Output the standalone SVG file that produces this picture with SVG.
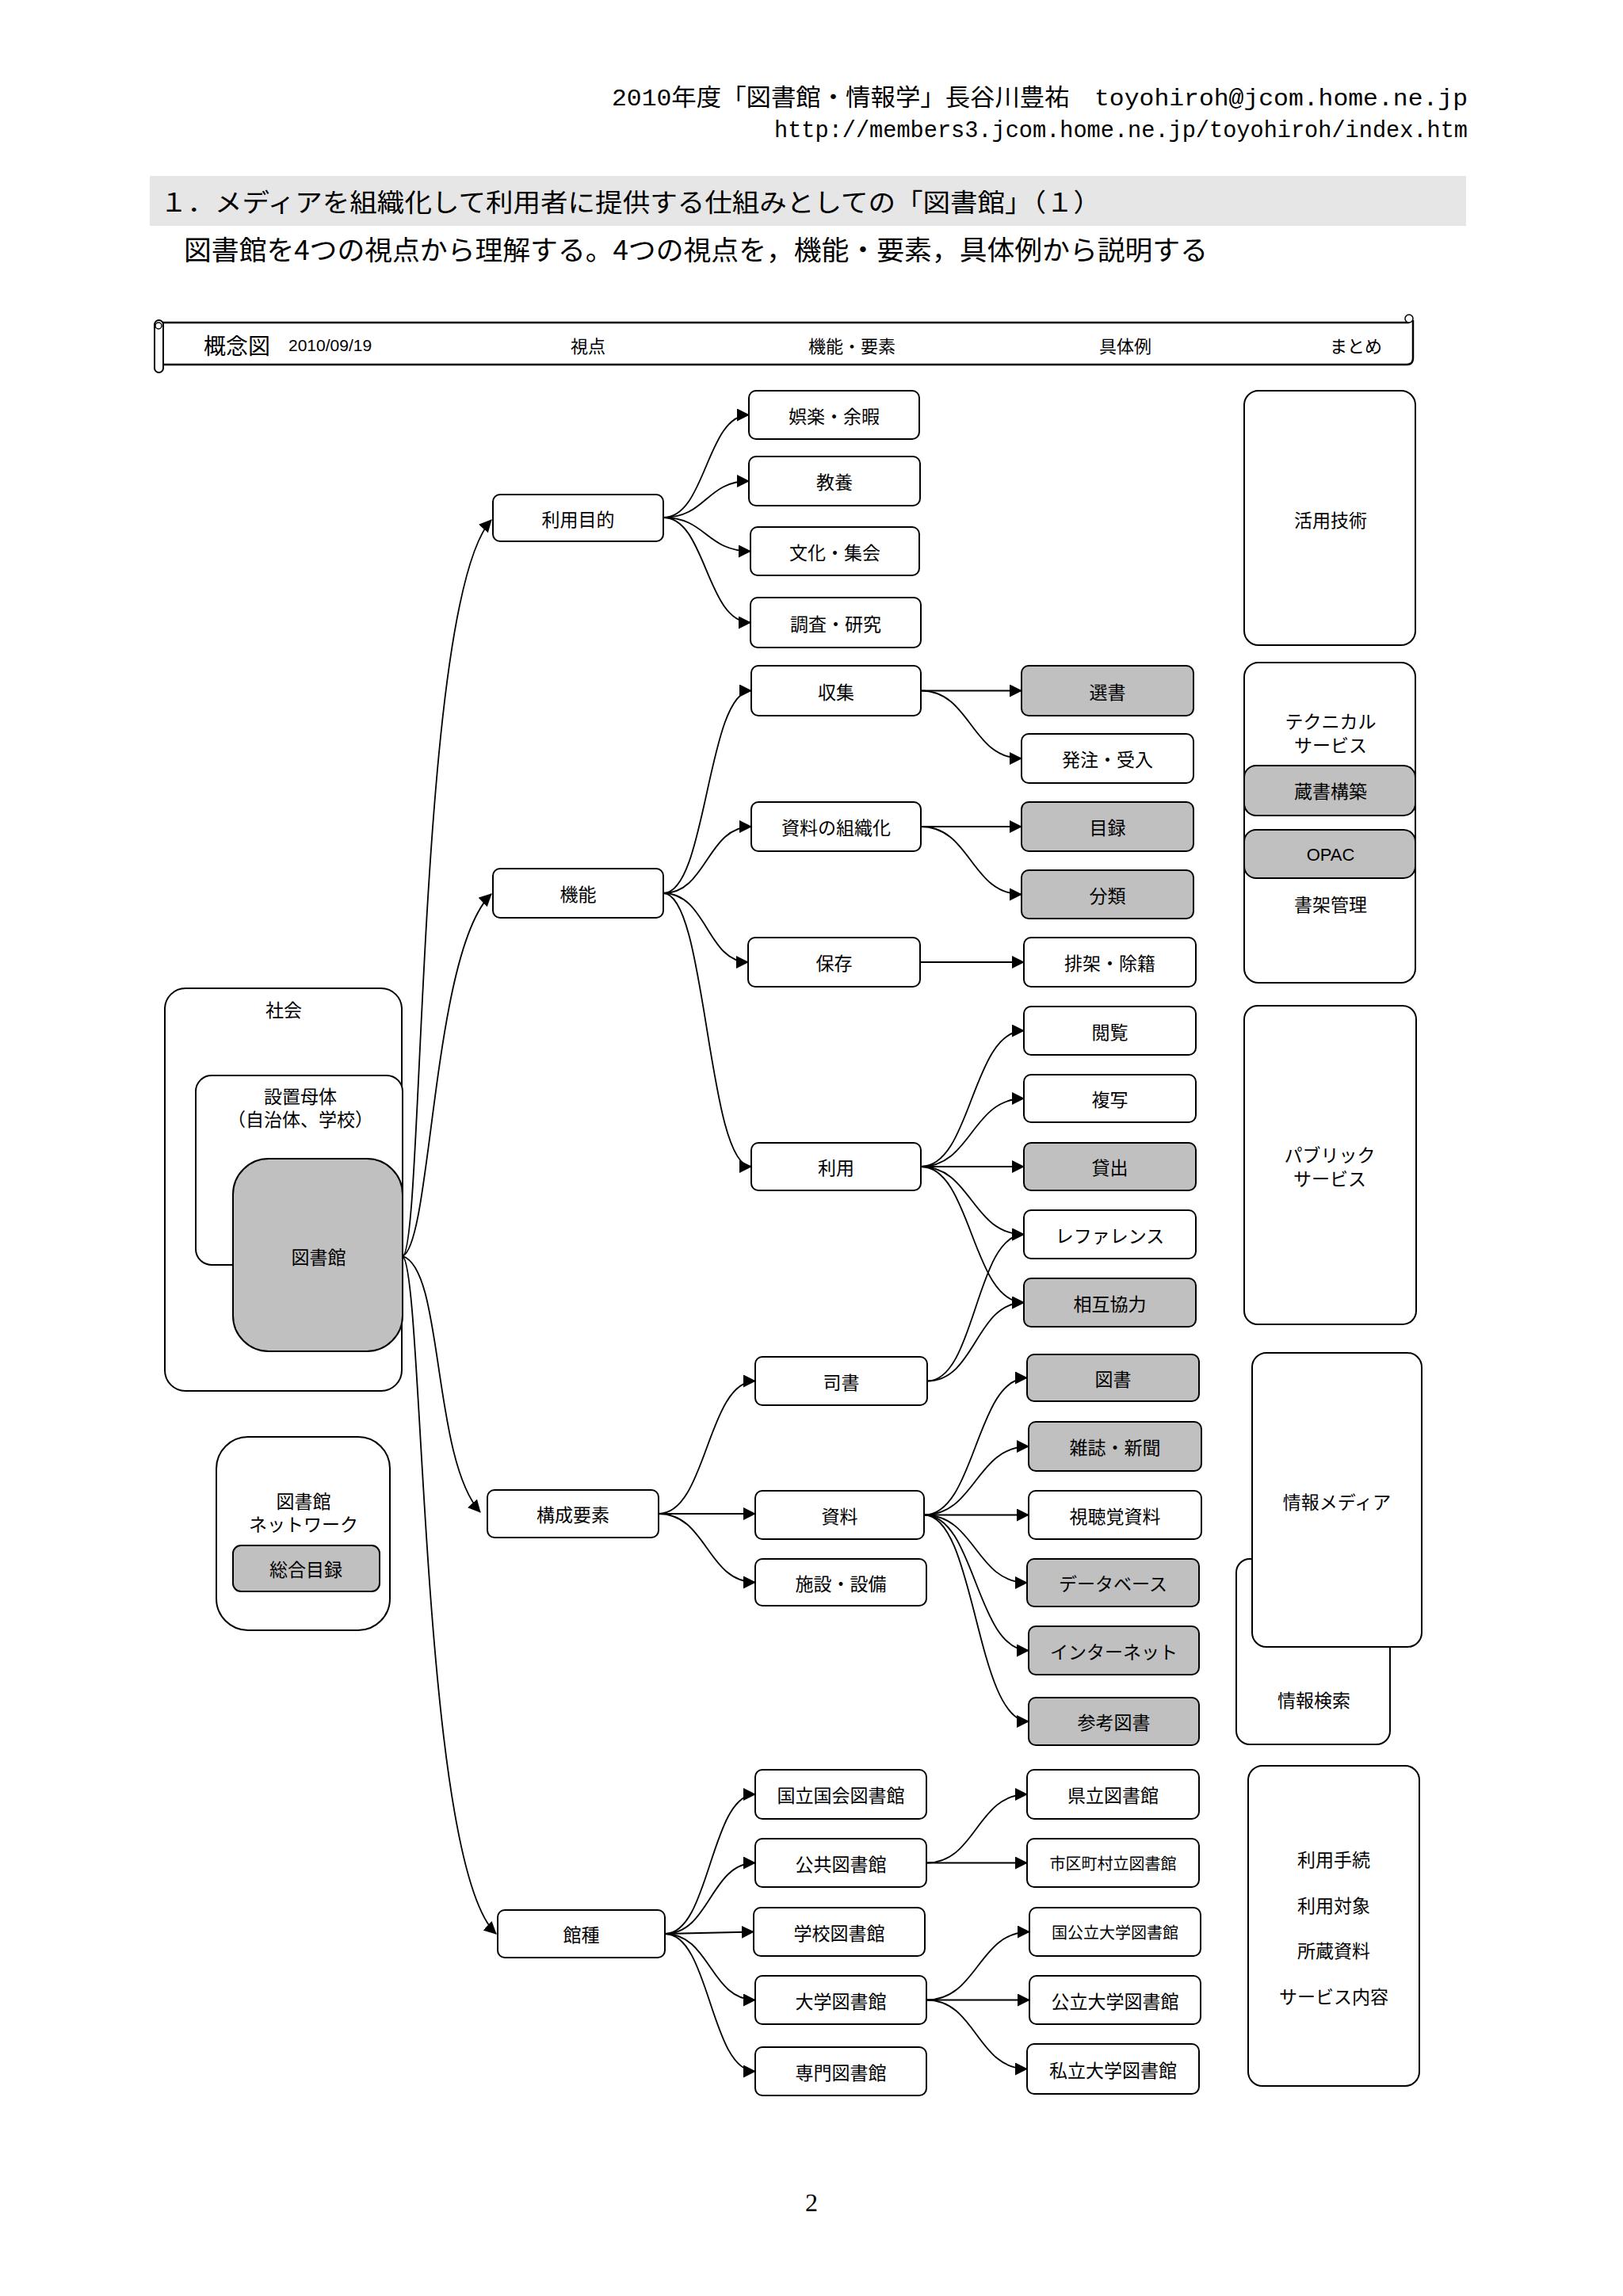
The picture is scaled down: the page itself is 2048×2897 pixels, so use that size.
<svg xmlns="http://www.w3.org/2000/svg" width="2048" height="2897" viewBox="0 0 2048 2897">
<style>
.n{fill:#fff;stroke:#000;stroke-width:2}
.g{fill:#c0c0c0;stroke:#000;stroke-width:2}
.t{font-family:"Noto Sans CJK JP","Liberation Sans",sans-serif;font-size:23px;text-anchor:middle;dominant-baseline:central;fill:#000}
.s{font-size:20px}
.c{fill:none;stroke:#000;stroke-width:1.8;marker-end:url(#ah)}
.hd{font-family:"Liberation Mono","Noto Sans CJK JP",monospace;font-size:30px;fill:#000}
</style>
<defs>
<marker id="ah" markerUnits="userSpaceOnUse" viewBox="0 0 16 16" markerWidth="16" markerHeight="16" refX="15" refY="8" orient="auto">
<path d="M0,0 L16,8 L0,16 z" fill="#000"/>
</marker>
</defs>
<rect width="2048" height="2897" fill="#fff"/>

<!-- page header -->
<text class="hd" x="1852" y="133" text-anchor="end" textLength="1080" lengthAdjust="spacingAndGlyphs">2010年度「図書館・情報学」長谷川豊祐　toyohiroh@jcom.home.ne.jp</text>
<text class="hd" x="1852" y="173" text-anchor="end" textLength="875" lengthAdjust="spacingAndGlyphs">http://members3.jcom.home.ne.jp/toyohiroh/index.htm</text>
<rect x="189" y="222" width="1661" height="63" fill="#e6e6e6"/>
<text x="202" y="267" font-family="Noto Sans CJK JP,sans-serif" font-size="32" textLength="1187" lengthAdjust="spacingAndGlyphs">１．メディアを組織化して利用者に提供する仕組みとしての「図書館」（１）</text>
<text x="232" y="328" font-family="Noto Sans CJK JP,sans-serif" font-size="34" textLength="1292" lengthAdjust="spacingAndGlyphs">図書館を4つの視点から理解する。4つの視点を，機能・要素，具体例から説明する</text>

<!-- scroll header -->
<g id="scroll">
<path d="M200,407 H1778 M1783,404 V452 Q1783,460 1775,460 H205" fill="none" stroke="#000" stroke-width="2.5"/>
<rect x="195" y="404" width="11" height="66" rx="5.5" fill="#fff" stroke="#000" stroke-width="2"/>
<circle cx="200" cy="411" r="4" fill="#fff" stroke="#000" stroke-width="1.5"/>
<circle cx="1778" cy="402" r="5" fill="#fff" stroke="#000" stroke-width="1.5"/>
<text class="t" x="299" y="435" style="font-size:28px">概念図</text>
<text x="364" y="435" font-family="Liberation Sans,sans-serif" font-size="21" dominant-baseline="central">2010/09/19</text>
<text class="t" x="742" y="435" style="font-size:22px">視点</text>
<text class="t" x="1075" y="435" style="font-size:22px">機能・要素</text>
<text class="t" x="1420" y="435" style="font-size:22px">具体例</text>
<text class="t" x="1711" y="435" style="font-size:22px">まとめ</text>
</g>

<!-- left context boxes -->
<g id="shakai"><rect class="n" x="208" y="1247" width="299" height="508" rx="26"/><text class="t" x="358" y="1273">社会</text></g>
<g id="secchi"><rect class="n" x="247" y="1357" width="261" height="239" rx="20"/><text class="t" x="379" y="1382">設置母体</text><text class="t" x="379" y="1411">（自治体、学校）</text></g>
<g id="toshokan"><rect class="g" x="294" y="1462" width="214" height="243" rx="45"/><text class="t" x="402" y="1585">図書館</text></g>
<g id="network"><rect class="n" x="273" y="1813" width="219" height="244" rx="40"/><text class="t" x="383" y="1893">図書館</text><text class="t" x="383" y="1922">ネットワーク</text>
<rect class="g" x="294" y="1950" width="185" height="58" rx="10"/><text class="t" x="386" y="1979">総合目録</text></g>

<!-- right summary boxes -->
<g id="katsuyo"><rect class="n" x="1570" y="493" width="216" height="321" rx="18"/><text class="t" x="1679" y="655">活用技術</text></g>
<g id="technical"><rect class="n" x="1570" y="836" width="216" height="404" rx="18"/><text class="t" x="1679" y="909">テクニカル</text><text class="t" x="1679" y="939">サービス</text>
<rect class="g" x="1570" y="966" width="216" height="63" rx="15"/><text class="t" x="1679" y="997">蔵書構築</text>
<rect class="g" x="1570" y="1047" width="216" height="61" rx="15"/><text class="t" x="1679" y="1078" style="font-family:'Liberation Sans',sans-serif;font-size:22px">OPAC</text>
<text class="t" x="1679" y="1140">書架管理</text></g>
<g id="public"><rect class="n" x="1570" y="1269" width="217" height="402" rx="17"/><text class="t" x="1678" y="1456">パブリック</text><text class="t" x="1678" y="1486">サービス</text></g>
<g id="kensaku"><rect class="n" x="1560" y="1967" width="194" height="234" rx="17"/><text class="t" x="1658" y="2144">情報検索</text></g>
<g id="media"><rect class="n" x="1580" y="1707" width="214" height="371" rx="18"/><text class="t" x="1687" y="1894">情報メディア</text></g>
<g id="riyotetsuzuki"><rect class="n" x="1575" y="2228" width="216" height="404" rx="18"/><text class="t" x="1683" y="2345">利用手続</text><text class="t" x="1683" y="2403">利用対象</text><text class="t" x="1683" y="2460">所蔵資料</text><text class="t" x="1683" y="2518">サービス内容</text></g>

<!-- connectors -->
<g id="connectors">
<path class="c" d="M508,1585 C535,1580 525,760 620,656"/>
<path class="c" d="M508,1585 C545,1570 545,1200 620,1128"/>
<path class="c" d="M508,1585 C560,1600 545,1840 606,1908"/>
<path class="c" d="M508,1585 C535,1600 530,2350 626,2440"/>

<path class="c" d="M837,653 C891,653 891,523.5 945,523.5"/>
<path class="c" d="M837,653 C891,653 891,607 945,607"/>
<path class="c" d="M837,653 C891,653 891,695.5 947,695.5"/>
<path class="c" d="M837,653 C891,653 891,785.5 947,785.5"/>

<path class="c" d="M837,1127 C892,1127 892,871.5 948,871.5"/>
<path class="c" d="M837,1127 C892,1127 892,1043 948,1043"/>
<path class="c" d="M837,1127 C892,1127 892,1214 944,1214"/>
<path class="c" d="M837,1127 C892,1127 892,1472 948,1472"/>

<path class="c" d="M1162,871.5 H1289"/>
<path class="c" d="M1162,871.5 C1225,871.5 1225,957 1289,957"/>
<path class="c" d="M1162,1043 H1289"/>
<path class="c" d="M1162,1043 C1225,1043 1225,1128.5 1289,1128.5"/>
<path class="c" d="M1161,1214 H1292"/>

<path class="c" d="M1162,1472 C1226,1472 1226,1300.5 1292,1300.5"/>
<path class="c" d="M1162,1472 C1226,1472 1226,1386 1292,1386"/>
<path class="c" d="M1162,1472 H1292"/>
<path class="c" d="M1162,1472 C1226,1472 1226,1557.5 1292,1557.5"/>
<path class="c" d="M1162,1472 C1226,1472 1226,1643.5 1292,1643.5"/>
<path class="c" d="M1170,1742.5 C1231,1742.5 1231,1557.5 1292,1557.5"/>
<path class="c" d="M1170,1742.5 C1231,1742.5 1231,1643.5 1292,1643.5"/>

<path class="c" d="M831,1910 C892,1910 892,1742.5 953,1742.5"/>
<path class="c" d="M831,1910 H953"/>
<path class="c" d="M831,1910 C892,1910 892,1996.5 953,1996.5"/>

<path class="c" d="M1166,1911.5 C1231,1911.5 1231,1738.5 1296,1738.5"/>
<path class="c" d="M1166,1911.5 C1231,1911.5 1231,1825 1298,1825"/>
<path class="c" d="M1166,1911.5 H1298"/>
<path class="c" d="M1166,1911.5 C1231,1911.5 1231,1997 1296,1997"/>
<path class="c" d="M1166,1911.5 C1231,1911.5 1231,2082.5 1298,2082.5"/>
<path class="c" d="M1166,1911.5 C1231,1911.5 1231,2172 1298,2172"/>

<path class="c" d="M839,2440 C896,2440 896,2264 953,2264"/>
<path class="c" d="M839,2440 C896,2440 896,2350.5 953,2350.5"/>
<path class="c" d="M839,2440 L951,2437.5"/>
<path class="c" d="M839,2440 C896,2440 896,2523.5 953,2523.5"/>
<path class="c" d="M839,2440 C896,2440 896,2613.5 953,2613.5"/>

<path class="c" d="M1169,2350.5 C1232,2350.5 1232,2264 1296,2264"/>
<path class="c" d="M1169,2350.5 H1296"/>
<path class="c" d="M1169,2523.5 C1234,2523.5 1234,2437.5 1299,2437.5"/>
<path class="c" d="M1169,2523.5 H1299"/>
<path class="c" d="M1169,2523.5 C1232,2523.5 1232,2610.5 1296,2610.5"/>
</g>

<!-- column A -->
<g id="riyomokuteki"><rect class="n" x="622" y="624" width="215" height="59" rx="9"/><text class="t" x="729.5" y="653.5">利用目的</text></g>
<g id="kino"><rect class="n" x="622" y="1096" width="215" height="62" rx="9"/><text class="t" x="729.5" y="1127">機能</text></g>
<g id="koseiyoso"><rect class="n" x="615" y="1880" width="216" height="60" rx="9"/><text class="t" x="723" y="1910">構成要素</text></g>
<g id="kanshu"><rect class="n" x="628" y="2410" width="211" height="60" rx="9"/><text class="t" x="733.5" y="2440">館種</text></g>

<!-- column B -->
<g id="goraku"><rect class="n" x="945" y="493" width="215" height="61" rx="9"/><text class="t" x="1052.5" y="523.5">娯楽・余暇</text></g>
<g id="kyoyo"><rect class="n" x="945" y="576" width="216" height="62" rx="9"/><text class="t" x="1053" y="607">教養</text></g>
<g id="bunka"><rect class="n" x="947" y="665" width="213" height="61" rx="9"/><text class="t" x="1053.5" y="695.5">文化・集会</text></g>
<g id="chosa"><rect class="n" x="947" y="754" width="215" height="63" rx="9"/><text class="t" x="1054.5" y="785.5">調査・研究</text></g>
<g id="shushu"><rect class="n" x="948" y="840" width="214" height="63" rx="9"/><text class="t" x="1055" y="871.5">収集</text></g>
<g id="soshikika"><rect class="n" x="948" y="1012" width="214" height="62" rx="9"/><text class="t" x="1055" y="1043">資料の組織化</text></g>
<g id="hozon"><rect class="n" x="944" y="1183" width="217" height="62" rx="9"/><text class="t" x="1052.5" y="1214">保存</text></g>
<g id="riyo"><rect class="n" x="948" y="1442" width="214" height="60" rx="9"/><text class="t" x="1055" y="1472">利用</text></g>
<g id="shisho"><rect class="n" x="953" y="1712" width="217" height="61" rx="9"/><text class="t" x="1061.5" y="1742.5">司書</text></g>
<g id="shiryo"><rect class="n" x="953" y="1881" width="213" height="61" rx="9"/><text class="t" x="1059.5" y="1911.5">資料</text></g>
<g id="shisetsu"><rect class="n" x="953" y="1967" width="216" height="59" rx="9"/><text class="t" x="1061" y="1996.5">施設・設備</text></g>
<g id="kokkai"><rect class="n" x="953" y="2233" width="216" height="62" rx="9"/><text class="t" x="1061" y="2264">国立国会図書館</text></g>
<g id="kokyo"><rect class="n" x="953" y="2320" width="216" height="61" rx="9"/><text class="t" x="1061" y="2350.5">公共図書館</text></g>
<g id="gakko"><rect class="n" x="951" y="2407" width="216" height="61" rx="9"/><text class="t" x="1059" y="2437.5">学校図書館</text></g>
<g id="daigaku"><rect class="n" x="953" y="2493" width="216" height="61" rx="9"/><text class="t" x="1061" y="2523.5">大学図書館</text></g>
<g id="senmon"><rect class="n" x="953" y="2583" width="216" height="61" rx="9"/><text class="t" x="1061" y="2613.5">専門図書館</text></g>

<!-- column C -->
<g id="sensho"><rect class="g" x="1289" y="840" width="217" height="63" rx="9"/><text class="t" x="1397.5" y="871.5">選書</text></g>
<g id="hatchu"><rect class="n" x="1289" y="926" width="217" height="62" rx="9"/><text class="t" x="1397.5" y="957">発注・受入</text></g>
<g id="mokuroku"><rect class="g" x="1289" y="1012" width="217" height="62" rx="9"/><text class="t" x="1397.5" y="1043">目録</text></g>
<g id="bunrui"><rect class="g" x="1289" y="1098" width="217" height="61" rx="9"/><text class="t" x="1397.5" y="1128.5">分類</text></g>
<g id="haika"><rect class="n" x="1292" y="1183" width="217" height="62" rx="9"/><text class="t" x="1400.5" y="1214">排架・除籍</text></g>
<g id="etsuran"><rect class="n" x="1292" y="1270" width="217" height="61" rx="9"/><text class="t" x="1400.5" y="1300.5">閲覧</text></g>
<g id="fukusha"><rect class="n" x="1292" y="1356" width="217" height="60" rx="9"/><text class="t" x="1400.5" y="1386">複写</text></g>
<g id="kashidashi"><rect class="g" x="1292" y="1442" width="217" height="60" rx="9"/><text class="t" x="1400.5" y="1472">貸出</text></g>
<g id="reference"><rect class="n" x="1292" y="1527" width="217" height="61" rx="9"/><text class="t" x="1400.5" y="1557.5">レファレンス</text></g>
<g id="sogo"><rect class="g" x="1292" y="1613" width="217" height="61" rx="9"/><text class="t" x="1400.5" y="1643.5">相互協力</text></g>
<g id="tosho"><rect class="g" x="1296" y="1709" width="217" height="59" rx="9"/><text class="t" x="1404.5" y="1738.5">図書</text></g>
<g id="zasshi"><rect class="g" x="1298" y="1794" width="218" height="62" rx="9"/><text class="t" x="1407" y="1825">雑誌・新聞</text></g>
<g id="shichokaku"><rect class="n" x="1298" y="1881" width="218" height="61" rx="9"/><text class="t" x="1407" y="1911.5">視聴覚資料</text></g>
<g id="database"><rect class="g" x="1296" y="1967" width="217" height="60" rx="9"/><text class="t" x="1404.5" y="1997">データベース</text></g>
<g id="internet"><rect class="g" x="1298" y="2052" width="215" height="61" rx="9"/><text class="t" x="1405.5" y="2082.5">インターネット</text></g>
<g id="sanko"><rect class="g" x="1298" y="2142" width="215" height="60" rx="9"/><text class="t" x="1405.5" y="2172">参考図書</text></g>
<g id="kenritsu"><rect class="n" x="1296" y="2233" width="217" height="62" rx="9"/><text class="t" x="1404.5" y="2264">県立図書館</text></g>
<g id="shikuchoson"><rect class="n" x="1296" y="2320" width="217" height="61" rx="9"/><text class="t s" x="1404.5" y="2350.5">市区町村立図書館</text></g>
<g id="kokoritsu"><rect class="n" x="1299" y="2407" width="216" height="61" rx="9"/><text class="t s" x="1407" y="2437.5">国公立大学図書館</text></g>
<g id="koritsu"><rect class="n" x="1299" y="2493" width="216" height="61" rx="9"/><text class="t" x="1407" y="2523.5">公立大学図書館</text></g>
<g id="shiritsu"><rect class="n" x="1296" y="2579" width="217" height="63" rx="9"/><text class="t" x="1404.5" y="2610.5">私立大学図書館</text></g>

<text x="1024" y="2790" font-family="Liberation Serif,serif" font-size="32" text-anchor="middle">2</text>
</svg>
